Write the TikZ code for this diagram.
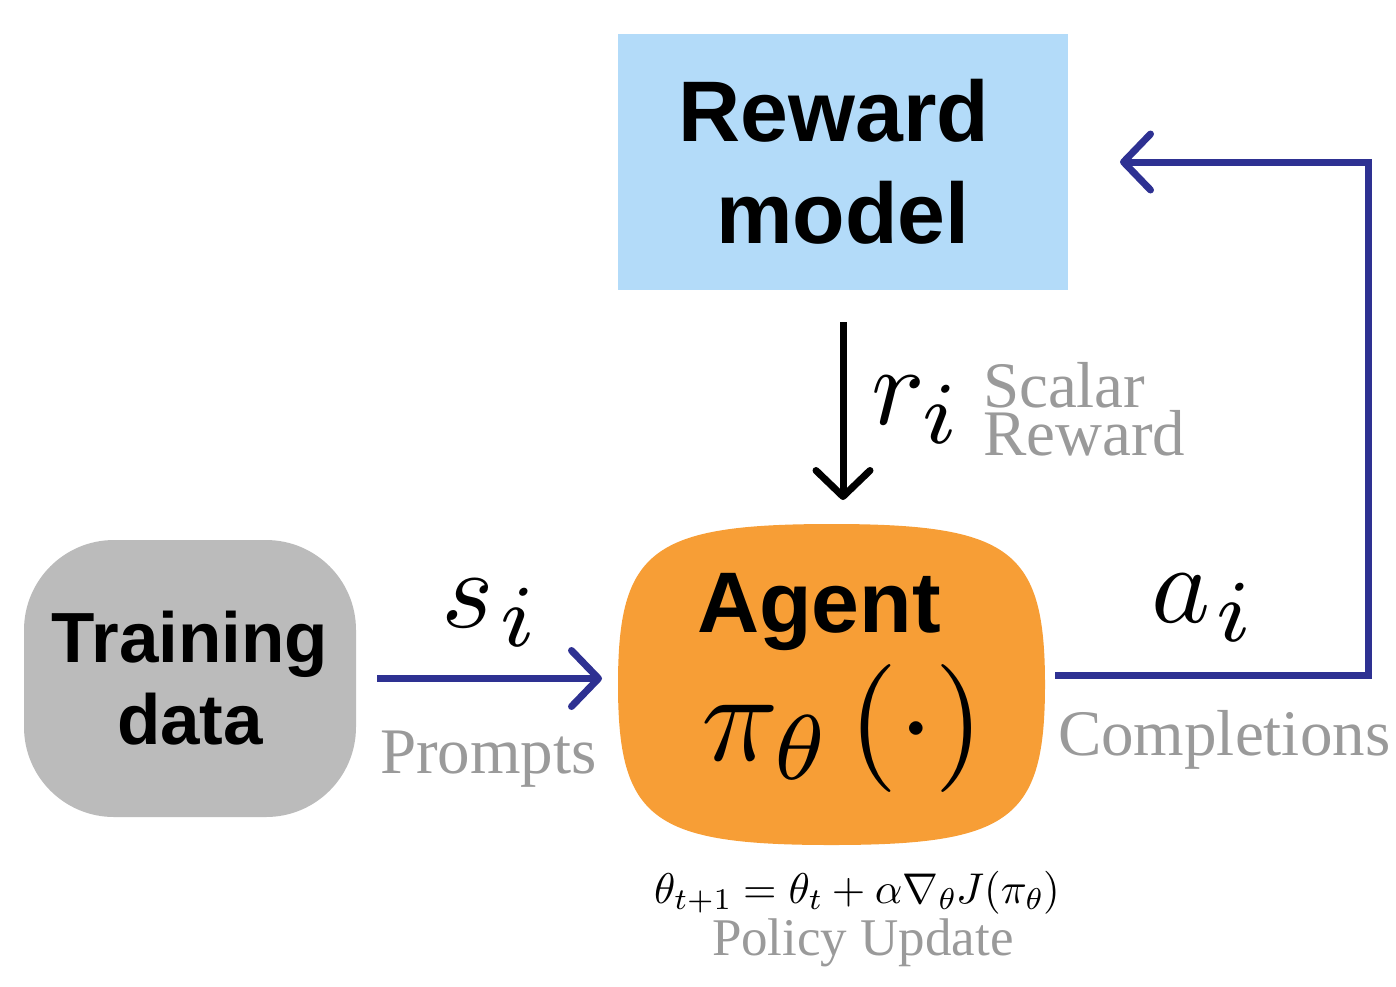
\documentclass[tikz,border=0pt]{standalone}
\usepackage[no-math]{fontspec}
\setmainfont{Liberation Serif}
\setsansfont{Liberation Sans}
\usepackage{amsmath}
\DeclareFontShape{OT1}{cmr}{m}{n}{<-32>cmr7 <32-50>cmr10 <50-97>cmr7 <97->cmr10}{}
\DeclareFontShape{OML}{cmm}{m}{it}{<-32>cmmi7 <32-50>cmmi10 <50-97>cmmi7 <97->cmmi10}{}
\DeclareFontShape{OMS}{cmsy}{m}{n}{<-32>cmsy7 <32-50>cmsy10 <50-97>cmsy7 <97->cmsy10}{}
\DeclareFontShape{OMX}{cmex}{m}{n}{<->cmex10}{}
\DeclareMathSizes{100}{112}{88}{60}
\DeclareMathSizes{125}{128}{92}{64}
\usetikzlibrary{arrows.meta,backgrounds,calc}
\definecolor{rmblue}{HTML}{B3DBF9}
\definecolor{tdgray}{HTML}{BBBBBB}
\definecolor{agorange}{HTML}{F79E36}
\definecolor{arrblue}{HTML}{2E3192}
\definecolor{lblgray}{HTML}{9A9A9A}
\tikzset{
  boxtext/.style={font=\sffamily\bfseries, text=black, align=center, inner sep=0pt, outer sep=0pt},
  flow/.style={line width=7pt, draw=arrblue, line join=miter, -{Straight Barb[length=27pt,width=56pt,round]}},
  rflow/.style={line width=7pt, draw=black, -{Straight Barb[length=26pt,width=54pt,round]}},
  lbl/.style={text=lblgray, inner sep=0pt, outer sep=0pt},
  mathlbl/.style={text=black, inner sep=0pt, outer sep=0pt},
}
\begin{document}
\begin{tikzpicture}[x=1pt,y=-1pt]
\useasboundingbox (0,0) rectangle (1396,986);
% nodes
\node[boxtext, fill=rmblue, minimum width=450pt, minimum height=256pt,
      font=\sffamily\bfseries\fontsize{86}{102}\selectfont] (reward) at (843,162) {Reward\kern18pt\\model};
\node[boxtext, fill=tdgray, rounded corners=90pt, minimum width=332pt, minimum height=277pt,
      font=\sffamily\bfseries\fontsize{71}{82}\selectfont] (train) at (190,678.5) {Training\\data};
\node[inner sep=0pt, outer sep=0pt, minimum width=427pt, minimum height=321pt] (agent) at (831.5,684.5) {};
\begin{scope}[on background layer]
\fill[agorange] (agent.north)
  .. controls ($(agent.north)!0.84!(agent.north east)$) and ($(agent.east)!0.84!(agent.north east)$) .. (agent.east)
  .. controls ($(agent.east)!0.84!(agent.south east)$) and ($(agent.south)!0.84!(agent.south east)$) .. (agent.south)
  .. controls ($(agent.south)!0.84!(agent.south west)$) and ($(agent.west)!0.84!(agent.south west)$) .. (agent.west)
  .. controls ($(agent.west)!0.84!(agent.north west)$) and ($(agent.north)!0.84!(agent.north west)$) .. (agent.north) -- cycle;
\end{scope}
\node[boxtext, anchor=base west, font=\sffamily\bfseries\fontsize{86}{100}\selectfont] (agentname) at (697,632) {Agent};
\node[mathlbl, anchor=base west, font=\fontsize{125}{140}\selectfont] (policy) at (701,760) {$\pi_\theta\left(\cdot\right)$};
% labels
\node[mathlbl, anchor=base west, font=\fontsize{100}{110}\selectfont] (si) at (441,627) {$s_{\mkern1mu i}$};
\node[mathlbl, anchor=base west, font=\fontsize{100}{110}\selectfont] (ai) at (1151,622) {$a_{\mkern1mu i}$};
\node[mathlbl, anchor=base west, font=\fontsize{100}{110}\selectfont] (ri) at (871,424) {$r_i$};
\node[lbl, anchor=base west, font=\fontsize{65}{70}\selectfont] (prompts) at (380,773) {Prompts};
\node[lbl, anchor=base west, font=\fontsize{65}{70}\selectfont] (compl) at (1058,755) {Completions};
\node[lbl, anchor=west, align=left, font=\fontsize{65}{48}\selectfont] (scalar) at (983,409) {Scalar\\Reward};
\node[mathlbl, anchor=base west, font=\fontsize{43}{50}\selectfont] (update) at (654,903) {$\theta_{t+1} = \theta_t + \alpha\nabla_\theta J(\pi_\theta)$};
\node[lbl, anchor=base west, font=\fontsize{53}{60}\selectfont] (policyupd) at (712,955) {Policy Update};
% connectors
\coordinate (cturn) at (1368,675);
\draw[flow, shorten <=21pt, shorten >=16pt] (train.east) -- (train.east -| agent.west);
\draw[rflow, shorten <=32pt, shorten >=24pt] (reward.south) -- (reward.south |- agent.north);
\draw[flow, shorten <=10pt, shorten >=52pt] (agent.east |- cturn) -- (cturn) |- (reward.east);
\end{tikzpicture}
\end{document}
